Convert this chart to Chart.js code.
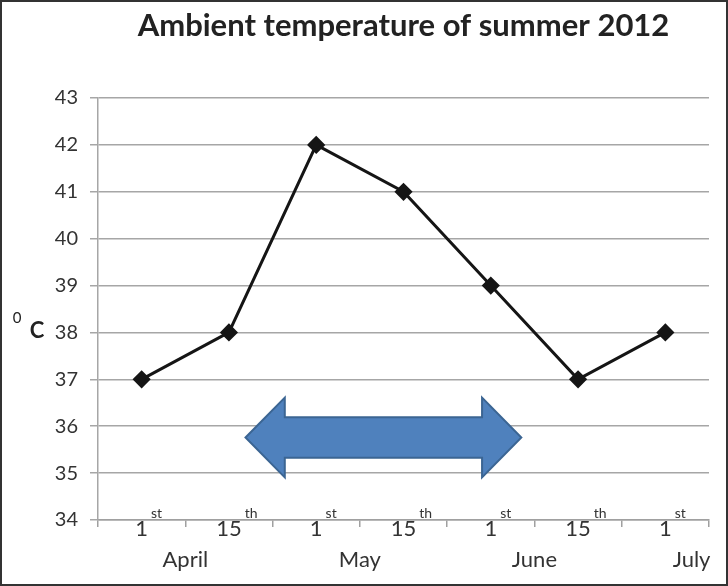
<!DOCTYPE html>
<html>
<head>
<meta charset="utf-8">
<script src="https://cdn.jsdelivr.net/npm/chart.js@4.4.0/dist/chart.umd.min.js"></script>
<style>
  html, body { margin: 0; padding: 0; background: #fff; }
  #wrap { width: 728px; height: 586px; box-sizing: border-box; border: 2px solid #333; }
  canvas { display: block; }
</style>
</head>
<body>
<div id="wrap"><canvas id="chart" width="724" height="582"></canvas></div>
<script>
// data
const days = ['1', '15', '1', '15', '1', '15', '1'];
const daySuffix = ['st', 'th', 'st', 'th', 'st', 'th', 'st'];
const temps = [37, 38, 42, 41, 39, 37, 38];
const months = ['April', 'May', 'June', 'July'];
const monthAt = [0.5, 2.5, 4.5, 6.3];   // category index under each month name
const yMin = 34, yMax = 43, yStep = 1;

const FONT = 'Lato, "Open Sans", sans-serif';

// double arrow annotation, in data units (category index / degrees)
const arrowSpan = [1.19, 4.35];
const arrowHead = 0.45;
const arrowY = 35.76, shaftHalf = 0.43, headHalf = 0.85;

const labelsPlugin = {
  id: 'labels',
  beforeDatasetsDraw(chart) {
    const { ctx, scales: { x, y } } = chart;
    const xa = x.getPixelForValue(arrowSpan[0]), xb = x.getPixelForValue(arrowSpan[1]);
    const xh1 = x.getPixelForValue(arrowSpan[0] + arrowHead);
    const xh2 = x.getPixelForValue(arrowSpan[1] - arrowHead);
    const yc = y.getPixelForValue(arrowY);
    const ys1 = y.getPixelForValue(arrowY + shaftHalf), ys2 = y.getPixelForValue(arrowY - shaftHalf);
    const yh1 = y.getPixelForValue(arrowY + headHalf), yh2 = y.getPixelForValue(arrowY - headHalf);
    ctx.save();
    ctx.beginPath();
    ctx.moveTo(xa, yc);
    ctx.lineTo(xh1, yh1);
    ctx.lineTo(xh1, ys1);
    ctx.lineTo(xh2, ys1);
    ctx.lineTo(xh2, yh1);
    ctx.lineTo(xb, yc);
    ctx.lineTo(xh2, yh2);
    ctx.lineTo(xh2, ys2);
    ctx.lineTo(xh1, ys2);
    ctx.lineTo(xh1, yh2);
    ctx.closePath();
    ctx.fillStyle = '#4f81bd';
    ctx.fill();
    ctx.lineWidth = 2;
    ctx.strokeStyle = '#3b6593';
    ctx.stroke();
    ctx.restore();
  },
  afterDraw(chart) {
    const { ctx, chartArea, scales: { x } } = chart;
    ctx.save();
    // title
    ctx.fillStyle = '#222';
    ctx.textAlign = 'center';
    ctx.textBaseline = 'middle';
    ctx.font = 'bold 31px ' + FONT;
    ctx.fillText('Ambient temperature of summer 2012', (chartArea.left + chartArea.right) / 2, 24);

    // day labels with superscripts
    ctx.fillStyle = '#333';
    days.forEach((d, i) => {
      const px = x.getPixelForValue(i);
      ctx.font = '22px ' + FONT;
      ctx.textAlign = 'center';
      ctx.fillText(d, px, chartArea.bottom + 9);
      const w = ctx.measureText(d).width;
      ctx.font = '14px ' + FONT;
      ctx.textAlign = 'left';
      ctx.fillText(daySuffix[i], px + w / 2 + 3, chartArea.bottom - 7);
    });

    // month labels
    ctx.font = '22px ' + FONT;
    ctx.textAlign = 'center';
    months.forEach((m, i) => {
      ctx.fillText(m, x.getPixelForValue(monthAt[i]), chartArea.bottom + 40);
    });

    // y axis title: superscript 0 and C
    ctx.fillStyle = '#222';
    ctx.font = '15px ' + FONT;
    ctx.fillText('0', 15, 316);
    ctx.font = 'bold 22px ' + FONT;
    ctx.fillText('C', 35, 329);
    ctx.restore();
  }
};

new Chart(document.getElementById('chart'), {
  type: 'line',
  data: {
    labels: days.map((d, i) => d + daySuffix[i]),
    datasets: [{
      data: temps,
      borderColor: '#151515',
      borderWidth: 3,
      pointStyle: 'rectRot',
      pointRadius: 7,
      pointBackgroundColor: '#151515',
      pointBorderColor: '#151515',
      tension: 0
    }]
  },
  options: {
    responsive: false,
    animation: false,
    layout: { padding: { left: 0, right: 17, top: 96, bottom: 0 } },
    plugins: { legend: { display: false }, tooltip: { enabled: false } },
    scales: {
      x: {
        offset: true,
        grid: { offset: true, drawOnChartArea: false, tickLength: 7, color: '#a0a0a0', lineWidth: 1.5 },
        border: { color: '#a0a0a0', width: 1.5 },
        ticks: { display: false },
        afterFit(scale) { scale.height = 64; }
      },
      y: {
        min: yMin,
        max: yMax,
        ticks: { stepSize: yStep, color: '#333', font: { family: FONT, size: 20 }, padding: 12 },
        grid: { color: '#a6a6a6', lineWidth: 1.5, tickLength: 8 },
        border: { color: '#a6a6a6', width: 1.5 },
        afterFit(scale) { scale.width = 96; }
      }
    }
  },
  plugins: [labelsPlugin]
});
</script>
</body>
</html>
